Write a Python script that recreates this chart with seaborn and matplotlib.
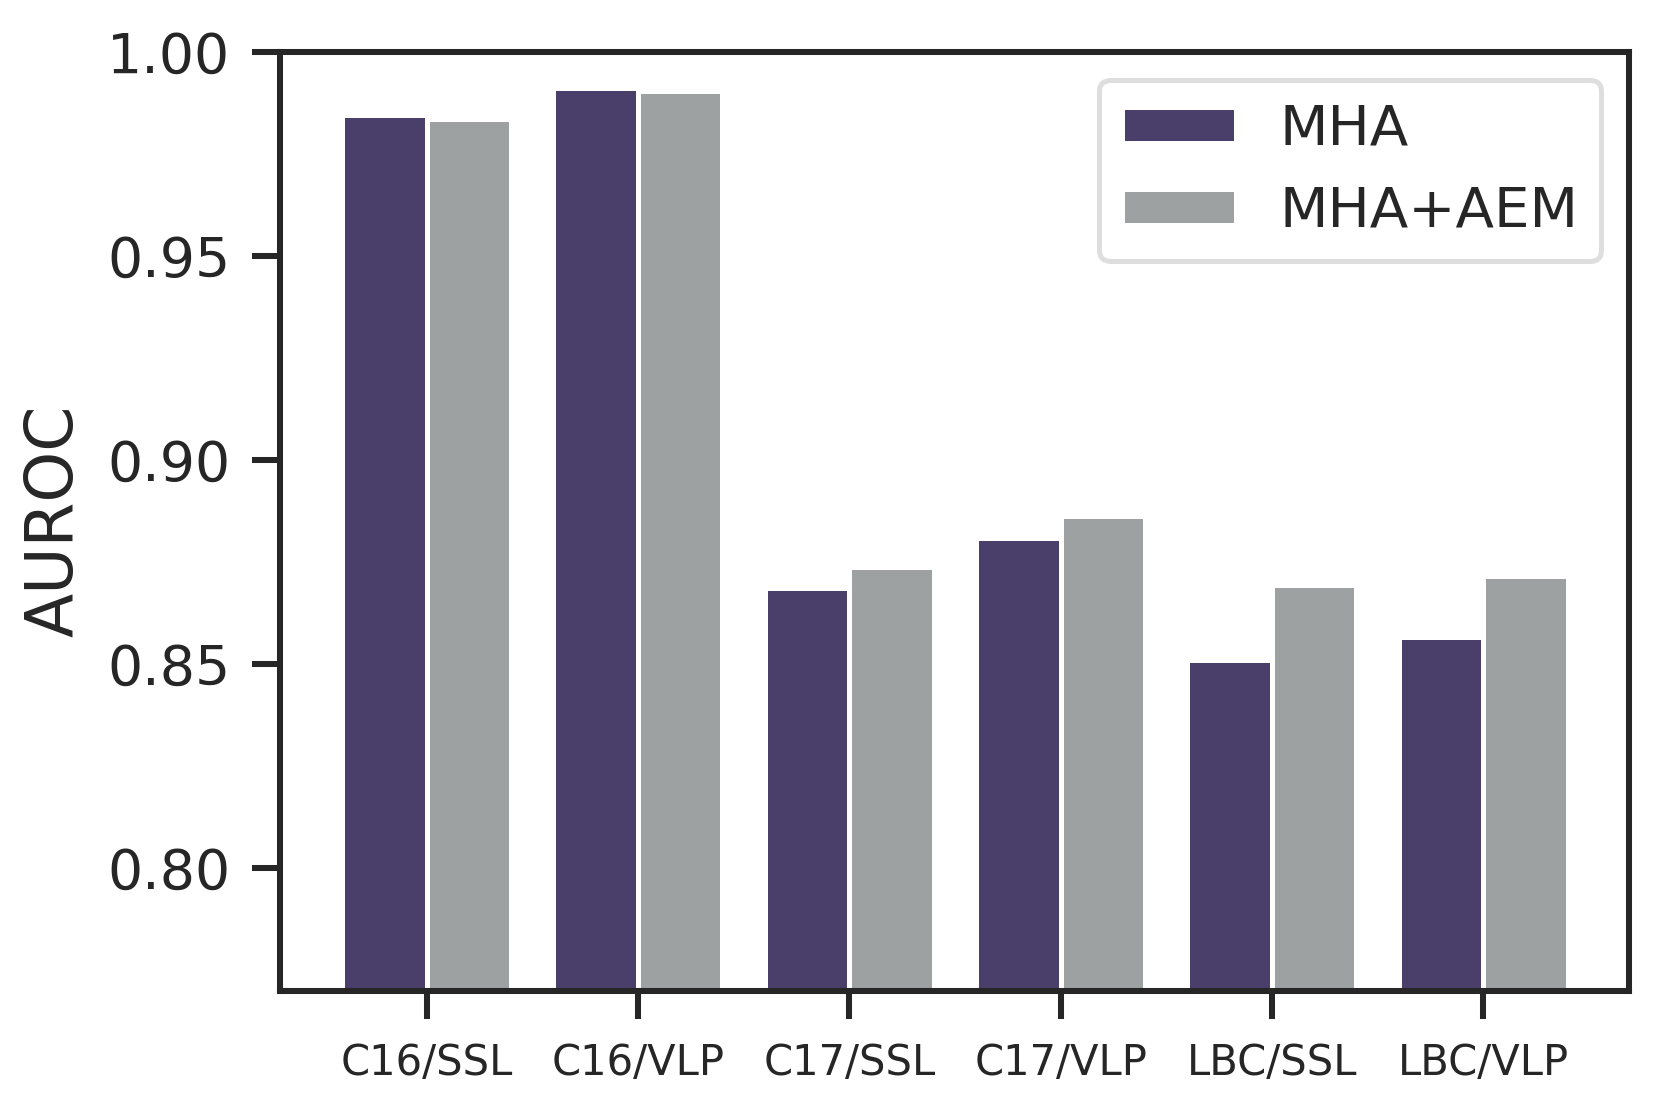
import matplotlib
matplotlib.use("Agg")
import matplotlib.pyplot as plt
import seaborn as sns
import pandas as pd

categories = ["C16/SSL", "C16/VLP", "C17/SSL", "C17/VLP", "LBC/SSL", "LBC/VLP"]
mha = [0.9846, 0.9911, 0.8687, 0.8808, 0.8510, 0.8567]
mha_aem = [0.9836, 0.9905, 0.8737, 0.8862, 0.8693, 0.8717]
methods = ["MHA", "MHA+AEM"]
yticks = [0.80, 0.85, 0.90, 0.95, 1.00]

df = pd.DataFrame({
    "Dataset": categories * 2,
    "AUROC": mha + mha_aem,
    "Method": [methods[0]] * len(categories) + [methods[1]] * len(categories),
})

sns.set_theme(style="ticks")
plt.rcParams["font.family"] = ["DejaVu Sans"]

fig = plt.figure(figsize=(1661 / 300, 1107 / 300), dpi=300)
ax = fig.add_axes([0.1684, 0.1052, 0.9808 - 0.1684, 0.9531 - 0.1052])

sns.barplot(data=df, x="Dataset", y="AUROC", hue="Method", hue_order=methods,
            palette=["#4a3e6b", "#9da1a1"], saturation=1, width=0.8,
            edgecolor="white", linewidth=1.2, ax=ax)

ax.set_xlim(-0.695, 5.69)
ax.set_ylim(0.77, 1.0)
ax.set_yticks(yticks)
ax.set_yticklabels([f"{v:.2f}" for v in yticks])
ax.set_xlabel("")
ax.set_ylabel("AUROC", fontsize=15.5, labelpad=5)
ax.tick_params(axis="y", labelsize=13.3, length=6.8, width=1.45, color="#262626", pad=5)
ax.tick_params(axis="x", labelsize=10, length=6.8, width=1.45, color="#262626", pad=5.5)
for s in ax.spines.values():
    s.set_visible(True)
    s.set_linewidth(1.45)
    s.set_color("#262626")

leg = ax.legend(loc="upper right", bbox_to_anchor=(1.0, 1.0), fontsize=13.5,
                frameon=True, fancybox=True,
                handlelength=2.02, handleheight=0.6, handletextpad=0.78,
                labelspacing=0.5, borderpad=0.4, borderaxespad=0.5, title=None)
leg.get_frame().set_edgecolor("#d6d6d6")
leg.get_frame().set_linewidth(1.2)

fig.savefig("out.png", dpi=300)
